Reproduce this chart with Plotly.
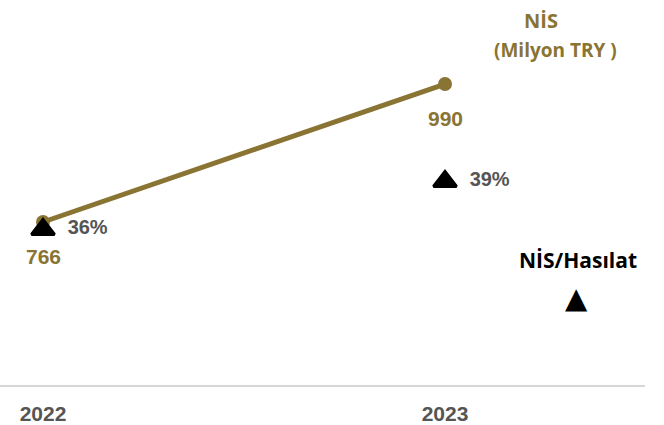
import plotly.graph_objects as go

# Data
years = [2022, 2023]
year_labels = ["2022", "2023"]
nis_values = [766, 990]          # NİS, Milyon TRY
nis_ratio = [36, 39]             # NİS/Hasılat, %
ratio_labels = ["36%", "39%"]

GOLD = "#8a7433"
GREY_TXT = "#555555"
NUM_FONT = "Liberation Sans"
TITLE_FONT = "Open Sans"
PAD = "\u00a0" * 2

fig = go.Figure()

# NİS line
fig.add_trace(go.Scatter(
    x=years, y=nis_values, mode="lines+markers",
    line=dict(color=GOLD, width=5),
    marker=dict(color=GOLD, size=14),
    hoverinfo="skip", showlegend=False,
))

# NİS/Hasılat triangles on the secondary axis
fig.add_trace(go.Scatter(
    x=years, y=nis_ratio, yaxis="y2", mode="markers+text",
    marker=dict(symbol="triangle-up", color="black", size=20,
                line=dict(color="black", width=3)),
    text=ratio_labels, texttemplate=PAD + "<b>%{text}</b>",
    textposition="middle right",
    textfont=dict(family=NUM_FONT, size=20, color=GREY_TXT),
    hoverinfo="skip", showlegend=False,
))

# Value labels under the line points
for x, v in zip(years, nis_values):
    fig.add_annotation(
        x=x, y=v, text=f"<b>{v}</b>", showarrow=False, yshift=-34,
        font=dict(family=NUM_FONT, size=21, color=GOLD),
    )

# Titles / key
fig.add_annotation(
    xref="paper", yref="paper", x=541 / 645, y=1 - 20 / 385,
    text="<b>NİS</b>", showarrow=False,
    font=dict(family=TITLE_FONT, size=20, color=GOLD),
    xanchor="center", yanchor="middle",
)
fig.add_annotation(
    xref="paper", yref="paper", x=555 / 645, y=1 - 50 / 385,
    text="<b>(Milyon TRY )</b>", showarrow=False,
    font=dict(family=TITLE_FONT, size=19, color=GOLD),
    xanchor="center", yanchor="middle",
)
fig.add_annotation(
    xref="paper", yref="paper", x=578 / 645, y=1 - 260 / 385,
    text="<b>NİS/Hasılat</b>", showarrow=False,
    font=dict(family=TITLE_FONT, size=21, color="black"),
    xanchor="center", yanchor="middle",
)
fig.add_annotation(
    xref="paper", yref="paper", x=576 / 645, y=1 - 298 / 385,
    text="▲", showarrow=False,
    font=dict(family="DejaVu Sans", size=29, color="black"),
    xanchor="center", yanchor="middle",
)

fig.update_layout(
    width=664, height=425,
    margin=dict(l=0, r=19, t=0, b=40, autoexpand=False),
    plot_bgcolor="white", paper_bgcolor="white",
    xaxis=dict(
        range=[2021.893, 2023.4975], tickvals=years,
        ticktext=[f"<b>{t}</b>" for t in year_labels],
        showgrid=False, zeroline=False, showline=True,
        linecolor="#d6d6d6", linewidth=2, automargin=False,
        ticks="outside", ticklen=9, tickcolor="rgba(0,0,0,0)",
        tickfont=dict(family=NUM_FONT, size=21, color=GREY_TXT),
    ),
    yaxis=dict(range=[501.4, 1126.4], visible=False, showgrid=False),
    yaxis2=dict(range=[26.28, 50.34], overlaying="y", visible=False,
                showgrid=False),
)

fig.write_html("out.html")
